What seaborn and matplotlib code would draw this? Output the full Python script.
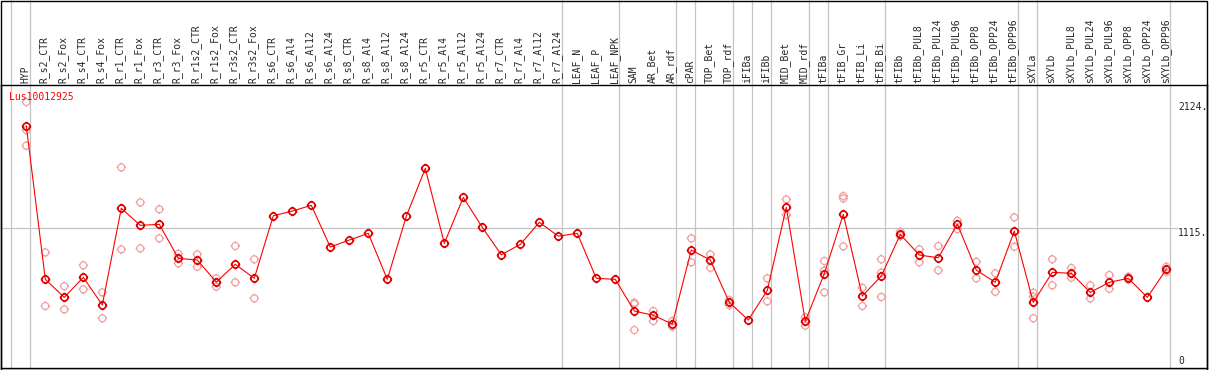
import numpy as np
import pandas as pd
import matplotlib
matplotlib.use("Agg")
import matplotlib.pyplot as plt
from matplotlib.path import Path
from matplotlib.patches import Rectangle
from matplotlib.transforms import blended_transform_factory
import seaborn as sns

# sample labels, in plotting order
labels = ["HYP", "R_s2_CTR", "R_s2_Fox", "R_s4_CTR", "R_s4_Fox", "R_r1_CTR", "R_r1_Fox",
          "R_r3_CTR", "R_r3_Fox", "R_r1s2_CTR", "R_r1s2_Fox", "R_r3s2_CTR", "R_r3s2_Fox",
          "R_s6_CTR", "R_s6_Al4", "R_s6_Al12", "R_s6_Al24", "R_s8_CTR", "R_s8_Al4",
          "R_s8_Al12", "R_s8_Al24", "R_r5_CTR", "R_r5_Al4", "R_r5_Al12", "R_r5_Al24",
          "R_r7_CTR", "R_r7_Al4", "R_r7_Al12", "R_r7_Al24", "LEAF_N", "LEAF_P", "LEAF_NPK",
          "SAM", "AR_Bet", "AR_rdf", "cPAR", "TOP_Bet", "TOP_rdf", "iFIBa", "iFIBb",
          "MID_Bet", "MID_rdf", "tFIBa", "tFIB_Gr", "tFIB_Li", "tFIB_Bi", "tFIBb",
          "tFIBb_PUL8", "tFIBb_PUL24", "tFIBb_PUL96", "tFIBb_OPP8", "tFIBb_OPP24",
          "tFIBb_OPP96", "sXYLa", "sXYLb", "sXYLb_PUL8", "sXYLb_PUL24", "sXYLb_PUL96",
          "sXYLb_OPP8", "sXYLb_OPP24", "sXYLb_OPP96"]

# number of samples in each tissue group (gray separators)
group_sizes = [1, 28, 3, 3, 1, 2, 1, 1, 2, 1, 3, 7, 1, 7]

# mean expression per sample
means = [1933, 708, 564, 724, 503, 1275, 1139, 1147, 876, 862, 686, 828, 716,
         1216, 1253, 1299, 966, 1022, 1075, 708, 1211, 1594, 995, 1362, 1123,
         904, 987, 1163, 1053, 1075, 716, 708,
         455, 421, 351, 942, 862, 524, 383, 620, 1283, 373, 753, 1227, 575, 734,
         1067, 902, 880, 1149, 782, 684, 1093, 524, 764, 756, 604, 684, 716, 564, 788]

# individual replicates (empty where none are shown)
replicates = [[2124, 1900, 1775], [923, 495], [654, 468], [820, 628], [604, 397],
              [1602, 947], [1322, 955], [1267, 1035], [912, 836], [907, 808],
              [716, 649], [974, 684], [868, 556],
              [], [], [], [], [], [], [], [], [], [], [], [], [], [], [], [], [], [], [],
              [521, 511, 303], [455, 375], [375, 330], [1035, 844], [907, 800],
              [543, 503], [], [716, 532], [1346, 1221], [405, 338], [854, 777, 604],
              [1373, 1354, 971], [641, 495], [868, 761, 567], [1088, 1053],
              [947, 844], [974, 780], [1176, 1109], [848, 716], [756, 609], [1203, 968],
              [601, 569, 397], [868, 660], [798, 721], [660, 556], [742, 633],
              [729, 706], [], [808, 769]]

gene_id = "Lus10012925"
ref_ticks = [2124, 1115, 0]

df = pd.DataFrame({"pos": np.arange(len(labels)), "label": labels, "mean": means})
rep_df = pd.DataFrame([(i, v) for i, reps in enumerate(replicates) for v in reps],
                      columns=["pos", "value"])

# circle marker with small ticks on the four sides
ticks = Path([(0, 1), (0, 1.35), (0, -1), (0, -1.35), (1, 0), (1.35, 0), (-1, 0), (-1.35, 0)],
             [Path.MOVETO, Path.LINETO] * 4)
tick_circle = Path.make_compound_path(Path.unit_circle(), ticks)

sns.set_style("white")
plt.rcParams["font.family"] = ["DejaVu Sans Mono"]

W, H = 1209, 370
fig = plt.figure(figsize=(W / 100, H / 100), dpi=100)
px_left, px_right, px_top, px_bottom = 1, 1207, 85, 368
ax = fig.add_axes([px_left / W, (H - px_bottom) / H,
                   (px_right - px_left) / W, (px_bottom - px_top) / H])

step, x0 = 19.0, 26.3
ax.set_xlim((px_left - x0) / step, (px_right - x0) / step)
ymax = 2124 * (px_bottom - px_top) / (px_bottom - 102)
ax.set_ylim(0, ymax)

gray = "#c4c4c4"
hdr_top = 1 + px_top / (px_bottom - px_top) + 0.01
# group separators, running through the header too
bounds = np.concatenate([[-1], np.cumsum(group_sizes) - 1]) + 4 / step
for b in bounds:
    ax.axvline(b, ymin=0, ymax=hdr_top, color=gray, lw=0.9, clip_on=False, zorder=0)
ax.axhline(1115, xmin=0, xmax=(1177 - px_left) / (px_right - px_left), color=gray, lw=0.9,
           zorder=0)

sns.scatterplot(data=rep_df, x="pos", y="value", marker=tick_circle, s=46,
                facecolors="none", edgecolor="#f0a0a0", linewidth=0.9, ax=ax, zorder=2)
sns.lineplot(data=df, x="pos", y="mean", color="red", lw=0.8, marker=tick_circle,
             markersize=6.8, markerfacecolor="none", markeredgecolor="#e00000",
             markeredgewidth=1.2, ax=ax, zorder=3)

ax.set_xticks([])
ax.set_yticks([])
ax.set_xlabel("")
ax.set_ylabel("")
for sp in ax.spines.values():
    sp.set_color("black")
    sp.set_linewidth(1)

# rotated sample names in the header band
hdr = blended_transform_factory(ax.transData, ax.transAxes)
for i, lab in enumerate(labels):
    ax.text(i - 0.05, 1.006, lab, transform=hdr, rotation=90, ha="center", va="bottom",
            fontsize=7, clip_on=False)

ax.text((9.3 - x0) / step, (px_bottom - 96.7) / (px_bottom - px_top), gene_id,
        transform=hdr, color="red", fontsize=7, ha="left", va="center")

xr = (1178 - x0) / step
for t in ref_ticks:
    if t == 0:
        ax.text(xr, 15, "0", fontsize=7, ha="left", va="bottom", clip_on=False)
    else:
        ax.text(xr, t, f"{t}.", fontsize=7, ha="left", va="top", clip_on=False)

fig.add_artist(Rectangle((px_left / W, 0.5 / H), (px_right - px_left) / W, (H - 1) / H,
                         transform=fig.transFigure, fill=False, edgecolor="black", lw=1))

fig.savefig("out.png", dpi=100)
